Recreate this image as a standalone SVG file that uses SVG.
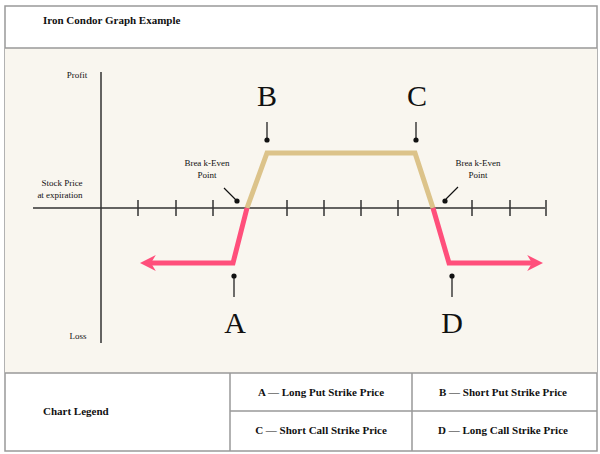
<svg xmlns="http://www.w3.org/2000/svg" width="600" height="454" viewBox="0 0 600 454">
<style>
.t{font-family:'Liberation Serif','DejaVu Serif',serif;fill:#111}
.b{font-weight:bold;font-size:11px}
.s{font-size:9px}
.big{font-size:30px}
.ax{stroke:#333;stroke-width:1.5;fill:none}
.pin{stroke:#111;stroke-width:1.2}
.grid{stroke:#999;stroke-width:1.5;fill:none}
</style>
<defs><marker id="ar" viewBox="0 0 10 10" refX="3" refY="5" markerWidth="3.2" markerHeight="3.6" orient="auto-start-reverse"><path d="M0,0L10,5L0,10L3,5Z" fill="#ff4f7b"/></marker></defs>
<rect x="5" y="6" width="592" height="445" fill="#fff" class="grid"/>
<rect x="5" y="48" width="592" height="325" fill="#f9f6ef"/>
<g class="grid"><path d="M5,48H597M5,373H597M230,373V451M412,373V451M230,411H597"/></g>
<text class="t b" x="43" y="24" font-family="Liberation Serif, serif">Iron Condor Graph Example</text>
<g id="axes" class="ax">
<path d="M101,72V343M33,208H545"/>
<path d="M138,200v16M176,200v16M213,200v16M287,200v16M324,200v16M361,200v16M398,200v16M472,200v16M510,200v16M546,200v16"/>
</g>
<text class="t s" x="77" y="78" text-anchor="middle">Profit</text>
<text class="t s" x="78" y="339" text-anchor="middle">Loss</text>
<text class="t s" x="62" y="186" text-anchor="middle">Stock Price</text>
<text class="t s" x="60" y="198" text-anchor="middle">at expiration</text>
<g id="connectors">
<path d="M247,208L267,153H415L433,208" stroke="#dcc38a" stroke-width="5" fill="none"/>
<path d="M247,208L233,263H151" stroke="#ff4f7b" stroke-width="5" fill="none" marker-end="url(#ar)"/>
<path d="M433,208L449,263H532" stroke="#ff4f7b" stroke-width="5" fill="none" marker-end="url(#ar)"/>
<path class="pin" d="M267,122V140M416,122V140M234,276V297M452,276V297M224,188L236,200M458,187L446,199"/>
<g fill="#111"><circle cx="267" cy="140" r="2.6"/><circle cx="416" cy="140" r="2.6"/><circle cx="234" cy="276" r="2.6"/><circle cx="452" cy="276" r="2.6"/><circle cx="237" cy="201" r="2.6"/><circle cx="445" cy="201" r="2.6"/></g>
</g>
<g id="labels">
<text class="t big" x="267" y="106" text-anchor="middle">B</text>
<text class="t big" x="417" y="106" text-anchor="middle">C</text>
<text class="t big" x="235" y="333" text-anchor="middle">A</text>
<text class="t big" x="452" y="333" text-anchor="middle">D</text>
<text class="t s" x="207" y="166" text-anchor="middle">Brea k-Even</text>
<text class="t s" x="207" y="178" text-anchor="middle">Point</text>
<text class="t s" x="478" y="166" text-anchor="middle">Brea k-Even</text>
<text class="t s" x="478" y="178" text-anchor="middle">Point</text>
</g>
<g id="legend">
<text class="t b" x="43" y="415">Chart Legend</text>
<text class="t b" x="321" y="396" text-anchor="middle" font-size="10">A — Long Put Strike Price</text>
<text class="t b" x="503" y="396" text-anchor="middle" font-size="10">B — Short Put Strike Price</text>
<text class="t b" x="321" y="434" text-anchor="middle" font-size="10">C — Short Call Strike Price</text>
<text class="t b" x="503" y="434" text-anchor="middle" font-size="10">D — Long Call Strike Price</text>
</g>
</svg>
